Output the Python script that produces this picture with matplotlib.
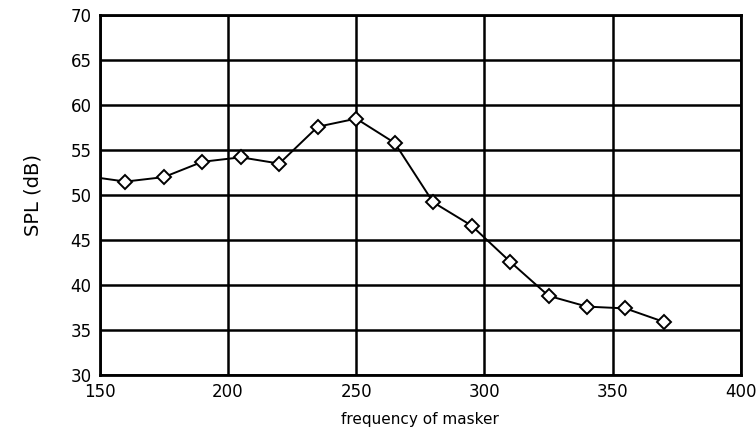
import numpy as np
import matplotlib.pyplot as plt

freq = [160, 175, 190, 205, 220, 235, 250, 265, 280, 295, 310, 325, 340, 355, 370]
spl = [51.5, 52.0, 53.7, 54.2, 53.5, 57.6, 58.5, 55.8, 49.2, 46.6, 42.6, 38.8, 37.6, 37.4, 35.9]
# line enters from the left edge without a marker
lead_freq = [150, 160]
lead_spl = [51.9, 51.5]

fig = plt.figure(figsize=(7.56, 4.34), dpi=100)
ax = fig.add_axes([0.132, 0.136, 0.848, 0.829])

ax.plot(lead_freq, lead_spl, color="black", lw=1.4)
ax.plot(freq, spl, color="black", lw=1.4, marker="D", markersize=7,
        markerfacecolor="white", markeredgecolor="black", markeredgewidth=1.4)

ax.set_xlim(150, 400)
ax.set_ylim(30, 70)
ax.set_xticks(np.arange(150, 401, 50))
ax.set_yticks(np.arange(30, 71, 5))
ax.grid(True, color="black", lw=1.8)
ax.set_axisbelow(True)
ax.tick_params(length=0, labelsize=12, pad=6)
for s in ax.spines.values():
    s.set_linewidth(2)
ax.set_xlabel("frequency of masker", fontsize=11, labelpad=8)
ax.set_ylabel("SPL (dB)", fontsize=14, labelpad=20)

fig.savefig("out.png", dpi=100)
